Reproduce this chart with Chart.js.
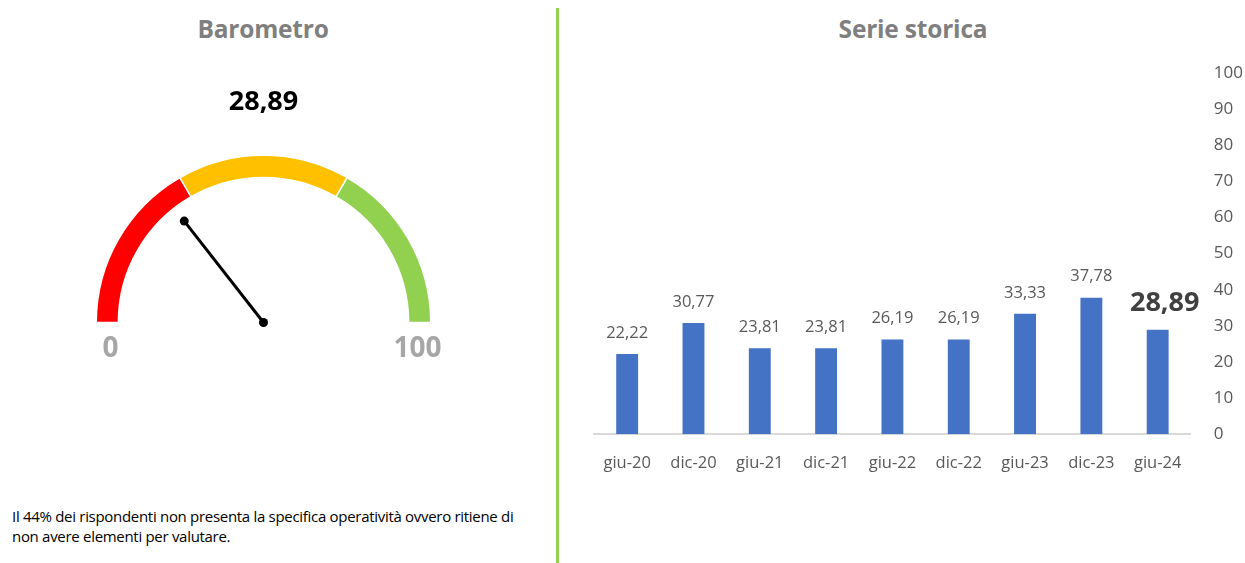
<!DOCTYPE html>
<html>
<head>
<meta charset="utf-8">
<script src="https://cdn.jsdelivr.net/npm/chart.js@4"></script>
<style>
body { margin:0; background:#fff; font-family:"Open Sans", sans-serif; }
#wrap { position:relative; width:1245px; height:563px; overflow:hidden; }
.title { position:absolute; top:12px; font-weight:bold; font-size:24.5px; color:#7f7f7f; text-align:center; letter-spacing:-0.2px; }
#note { position:absolute; left:12px; top:506px; width:518px; font-size:15px; line-height:20px; color:#000; letter-spacing:-0.3px; }
#sep { position:absolute; left:556px; top:8px; width:3px; height:555px; background:#92d050; }
#gauge { position:absolute; left:0; top:0; }
#bars { position:absolute; left:559px; top:0; }
</style>
</head>
<body>
<div id="wrap">
  <div class="title" style="left:63px;width:400px">Barometro</div>
  <div class="title" style="left:713px;width:400px">Serie storica</div>
  <canvas id="gauge" width="557" height="500"></canvas>
  <canvas id="bars" width="707" height="563"></canvas>
  <div id="sep"></div>
  <div id="note">Il 44% dei rispondenti non presenta la specifica operatività ovvero ritiene di non avere elementi per valutare.</div>
</div>
<script>
// gauge data
const gaugeBands = [33.33, 33.33, 33.34]
const gaugeColors = ['#ff0000', '#ffc000', '#92d050']
const gaugeValue = 28.89
const gaugeMin = 0
const gaugeMax = 100

// serie storica
const periods = ['giu-20', 'dic-20', 'giu-21', 'dic-21', 'giu-22', 'dic-22', 'giu-23', 'dic-23', 'giu-24']
const scores = [22.22, 30.77, 23.81, 23.81, 26.19, 26.19, 33.33, 37.78, 28.89]

function fmt(v) {
    return v.toFixed(2).replace('.', ',')
}

const needlePlugin = {
    id: 'needle',
    afterDraw(chart) {
        const arc = chart.getDatasetMeta(0).data[0]
        const ctx = chart.ctx
        const cx = arc.x, cy = arc.y, r = arc.outerRadius
        const ang = Math.PI + Math.PI * (gaugeValue - gaugeMin) / (gaugeMax - gaugeMin)
        const len = r * 0.78
        const nx = cx + Math.cos(ang) * len
        const ny = cy + Math.sin(ang) * len
        ctx.save()
        ctx.strokeStyle = '#000'
        ctx.lineWidth = 3
        ctx.beginPath()
        ctx.moveTo(cx, cy)
        ctx.lineTo(nx, ny)
        ctx.stroke()
        ctx.fillStyle = '#000'
        ctx.beginPath(); ctx.arc(cx, cy, 4.5, 0, Math.PI * 2); ctx.fill()
        ctx.beginPath(); ctx.arc(nx, ny, 4.5, 0, Math.PI * 2); ctx.fill()
        // labels
        ctx.textAlign = 'center'
        ctx.textBaseline = 'middle'
        ctx.font = 'bold 27px "Open Sans"'
        ctx.fillStyle = '#000'
        ctx.fillText(fmt(gaugeValue), cx, 102)
        ctx.font = 'bold 28px "Open Sans"'
        ctx.fillStyle = '#a6a6a6'
        ctx.fillText(String(gaugeMin), cx - r + 12, cy + 27)
        ctx.fillText(String(gaugeMax), cx + r - 11, cy + 27)
        ctx.restore()
    }
}

new Chart(document.getElementById('gauge'), {
    type: 'doughnut',
    data: {
        labels: ['basso', 'medio', 'alto'],
        datasets: [{
            data: gaugeBands,
            backgroundColor: gaugeColors,
            borderWidth: 0,
            spacing: 3
        }]
    },
    options: {
        responsive: false,
        animation: false,
        rotation: -90,
        circumference: 180,
        cutout: '87.5%',
        layout: { padding: { left: 96, right: 126, top: 156, bottom: 176 } },
        plugins: { legend: { display: false }, tooltip: { enabled: false } }
    },
    plugins: [needlePlugin]
})

const labelPlugin = {
    id: 'barLabels',
    afterDatasetsDraw(chart) {
        const ctx = chart.ctx
        const meta = chart.getDatasetMeta(0)
        ctx.save()
        ctx.textAlign = 'center'
        ctx.textBaseline = 'middle'
        meta.data.forEach(function(bar, i) {
            if (i == scores.length - 1) {
                // latest value highlighted, sits a bit to the right like the original
                ctx.font = 'bold 27px "Open Sans"'
                ctx.fillStyle = '#404040'
                ctx.fillText(fmt(scores[i]), bar.x + 7, bar.y - 27)
            } else {
                ctx.font = '16.5px "Open Sans"'
                ctx.fillStyle = '#595959'
                ctx.fillText(fmt(scores[i]), bar.x, bar.y - 21)
            }
        })
        ctx.restore()
    }
}

new Chart(document.getElementById('bars'), {
    type: 'bar',
    data: {
        labels: periods,
        datasets: [{
            label: 'Serie storica',
            data: scores,
            backgroundColor: '#4472c4',
            borderWidth: 0,
            categoryPercentage: 1,
            barPercentage: 0.33
        }]
    },
    options: {
        responsive: false,
        animation: false,
        layout: { padding: { left: 35, right: 0, top: 73, bottom: 71 } },
        scales: {
            x: {
                grid: { display: false, drawTicks: false },
                border: { color: '#d9d9d9', width: 2 },
                ticks: { color: '#595959', font: { family: 'Open Sans', size: 16.5 }, padding: 19, maxRotation: 0 }
            },
            y: {
                position: 'right',
                min: 0,
                max: 100,
                grid: { display: false, drawTicks: false },
                border: { display: false },
                ticks: { stepSize: 10, color: '#595959', font: { family: 'Open Sans', size: 17 }, padding: 23 }
            }
        },
        plugins: { legend: { display: false }, tooltip: { enabled: false } }
    },
    plugins: [labelPlugin]
})
</script>
</body>
</html>
